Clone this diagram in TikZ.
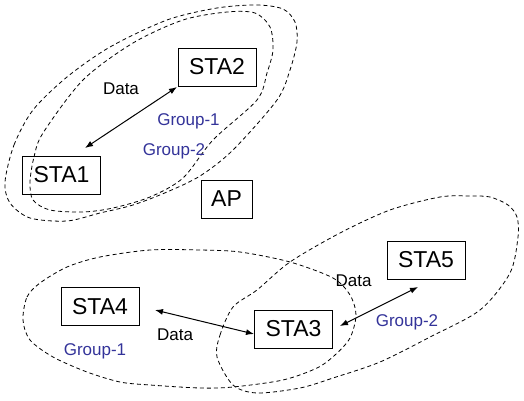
\documentclass[tikz,border=0pt]{standalone}
\usepackage{fontspec}
\setmainfont{Liberation Sans}
\usetikzlibrary{arrows.meta}
\definecolor{grouptext}{RGB}{51,51,153}
\begin{document}
\begin{tikzpicture}[x=1pt, y=-1pt,
  stabox/.style={draw, line width=0.8pt, minimum width=78pt, minimum height=38pt,
    inner sep=0pt, font=\fontsize{23}{23}\selectfont},
  grouplabel/.style={text=grouptext, anchor=base, inner sep=0pt,
    font=\fontsize{17}{17}\selectfont},
  datalabel/.style={anchor=base, inner sep=0pt, font=\fontsize{17}{17}\selectfont},
  zone/.style={draw, dash pattern=on 4pt off 3pt, line width=0.8pt},
  link/.style={{Latex[length=8pt,width=6pt]}-{Latex[length=8pt,width=6pt]}, line width=1pt}]
\useasboundingbox (0,0) rectangle (524,401);

% group zones around the first pair of stations
\draw[zone] plot[smooth cycle] coordinates {
  (5,182) (14,145) (33,110) (67,77) (110,47) (167,20) (217,8) (257,5) (283,9)
  (295,22) (297,42) (290,70) (277,100) (233,150) (200,176) (167,192) (133,205)
  (100,213) (67,221) (30,218) (10,203)};
\draw[zone] plot[smooth cycle] coordinates {
  (30,182) (34,157) (43,133) (83,80) (133,43) (183,20) (227,12) (255,13)
  (270,27) (273,50) (267,73) (257,100) (213,140) (183,178) (150,197) (113,208)
  (83,212) (50,210) (33,200)};

% group zones of the lower stations
\draw[zone] plot[smooth cycle] coordinates {
  (23,320) (27,297) (40,283) (67,267) (100,257) (150,250) (200,250) (240,252)
  (290,262) (333,278) (350,295) (356,315) (350,338) (335,355) (317,368) (283,380)
  (233,387) (200,388) (150,385) (120,382) (87,372) (53,357) (30,340)};
\draw[zone] plot[smooth cycle] coordinates {
  (217,357) (220,335) (233,307) (257,290) (290,262) (340,233) (390,210) (440,197)
  (470,196) (490,197) (508,205) (517,217) (518,237) (510,273) (480,310) (430,337)
  (380,362) (333,378) (300,388) (257,393) (233,385)};

% stations and access point
\node[stabox] (sta1) at (61.5,175) {STA1};
\node[stabox] (sta2) at (217,67) {STA2};
\node[stabox, minimum width=51pt] (ap) at (226.5,199) {AP};
\node[stabox] (sta4) at (100,306.5) {STA4};
\node[stabox] (sta3) at (293.5,329) {STA3};
\node[stabox] (sta5) at (426,260) {STA5};

% data link end points
\coordinate (l12a) at (85,148);
\coordinate (l12b) at (177,87);
\coordinate (l43a) at (155,310);
\coordinate (l43b) at (254,334);
\coordinate (l35a) at (340,326);
\coordinate (l35b) at (418,287);

\draw[link] (l12a) -- (l12b);
\draw[link] (l43a) -- (l43b);
\draw[link] (l35a) -- (l35b);

% labels
\node[datalabel] (dtop) at (121,95) {Data};
\node[grouplabel] (g1top) at (188.5,125) {Group-1};
\node[grouplabel] (g2top) at (174,155) {Group-2};
\node[datalabel] (d43) at (175,340) {Data};
\node[datalabel] (d35) at (353.5,286) {Data};
\node[grouplabel] (g1low) at (95,355) {Group-1};
\node[grouplabel] (g2low) at (407,326) {Group-2};
\end{tikzpicture}
\end{document}
